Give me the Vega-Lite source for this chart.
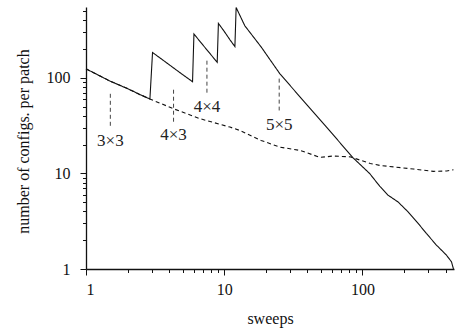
{
  "$schema": "https://vega.github.io/schema/vega-lite/v6.json",
  "width": 368,
  "height": 262,
  "autosize": {"type": "none"},
  "padding": {"left": 86, "top": 7, "right": 4, "bottom": 63},
  "background": "white",
  "config": {
    "view": {"stroke": null},
    "font": "Liberation Serif",
    "text": {"font": "Liberation Serif"},
    "axis": {
      "grid": false,
      "domainColor": "#111",
      "domainWidth": 1.3,
      "tickColor": "#111",
      "tickWidth": 1,
      "labelFont": "Liberation Serif",
      "labelFontSize": 16,
      "labelColor": "#111",
      "titleFont": "Liberation Serif",
      "titleFontSize": 16,
      "titleFontWeight": "normal",
      "titleColor": "#111"
    }
  },
  "datasets": {
    "lines": [
      {"series": "solid", "x": 1, "y": 124},
      {"series": "solid", "x": 1.5, "y": 92},
      {"series": "solid", "x": 2, "y": 77},
      {"series": "solid", "x": 2.5, "y": 66},
      {"series": "solid", "x": 2.9, "y": 60},
      {"series": "solid", "x": 3.03, "y": 184},
      {"series": "solid", "x": 4, "y": 137},
      {"series": "solid", "x": 5, "y": 108},
      {"series": "solid", "x": 5.9, "y": 91},
      {"series": "solid", "x": 6.04, "y": 287},
      {"series": "solid", "x": 7, "y": 221},
      {"series": "solid", "x": 8, "y": 175},
      {"series": "solid", "x": 8.9, "y": 145},
      {"series": "solid", "x": 9.08, "y": 371},
      {"series": "solid", "x": 10, "y": 306},
      {"series": "solid", "x": 11, "y": 250},
      {"series": "solid", "x": 11.95, "y": 212},
      {"series": "solid", "x": 12.2, "y": 543},
      {"series": "solid", "x": 14.1, "y": 350},
      {"series": "solid", "x": 18.6, "y": 208},
      {"series": "solid", "x": 25.3, "y": 110},
      {"series": "solid", "x": 37.3, "y": 57.8},
      {"series": "solid", "x": 55, "y": 30.5},
      {"series": "solid", "x": 85, "y": 14.7},
      {"series": "solid", "x": 113, "y": 9.95},
      {"series": "solid", "x": 133.6, "y": 7.33},
      {"series": "solid", "x": 153.5, "y": 5.91},
      {"series": "solid", "x": 181, "y": 5.03},
      {"series": "solid", "x": 214, "y": 3.96},
      {"series": "solid", "x": 253, "y": 3.0},
      {"series": "solid", "x": 290, "y": 2.36},
      {"series": "solid", "x": 343, "y": 1.78},
      {"series": "solid", "x": 405, "y": 1.4},
      {"series": "solid", "x": 441, "y": 1.19},
      {"series": "solid", "x": 456, "y": 1},
      {"series": "dashed", "x": 1, "y": 124},
      {"series": "dashed", "x": 1.5, "y": 92},
      {"series": "dashed", "x": 2, "y": 77},
      {"series": "dashed", "x": 2.5, "y": 66},
      {"series": "dashed", "x": 2.9, "y": 60},
      {"series": "dashed", "x": 4.3, "y": 47.4},
      {"series": "dashed", "x": 6.7, "y": 37.3},
      {"series": "dashed", "x": 11, "y": 30.5},
      {"series": "dashed", "x": 13, "y": 28.1},
      {"series": "dashed", "x": 18.5, "y": 22.1},
      {"series": "dashed", "x": 25.4, "y": 18.8},
      {"series": "dashed", "x": 35.4, "y": 17.4},
      {"series": "dashed", "x": 49.4, "y": 14.7},
      {"series": "dashed", "x": 61.7, "y": 15.2},
      {"series": "dashed", "x": 81.5, "y": 14.9},
      {"series": "dashed", "x": 114, "y": 12.7},
      {"series": "dashed", "x": 134, "y": 12.1},
      {"series": "dashed", "x": 168, "y": 11.7},
      {"series": "dashed", "x": 234, "y": 11.1},
      {"series": "dashed", "x": 327, "y": 10.5},
      {"series": "dashed", "x": 408, "y": 10.6},
      {"series": "dashed", "x": 456, "y": 10.9}
    ],
    "notes": [
      {"label": "3×3", "x": 1.5, "y1": 68, "y2": 31, "ly": 22},
      {"label": "4×3", "x": 4.3, "y1": 75, "y2": 34, "ly": 25},
      {"label": "4×4", "x": 7.5, "y1": 151, "y2": 68, "ly": 49},
      {"label": "5×5", "x": 25, "y1": 98, "y2": 45.5, "ly": 31.7}
    ]
  },
  "layer": [
    {
      "data": {"name": "lines"},
      "mark": {"type": "line", "color": "#111", "strokeWidth": 1.1},
      "encoding": {
        "x": {
          "field": "x", "type": "quantitative",
          "scale": {"type": "log", "domain": [1, 460], "nice": false},
          "axis": {
            "title": "sweeps",
            "values": [1, 2, 3, 4, 5, 6, 7, 8, 9, 10, 20, 30, 40, 50, 60, 70, 80, 90, 100, 200, 300, 400],
            "labelExpr": "datum.value == 1 || datum.value == 10 || datum.value == 100 ? format(datum.value, 'd') : ''",
            "tickSize": {"condition": {"test": "datum.value == 1 || datum.value == 10 || datum.value == 100", "value": 6}, "value": 3.5},
            "labelPadding": 6,
            "titleBaseline": "alphabetic",
            "titleY": 54
          }
        },
        "y": {
          "field": "y", "type": "quantitative",
          "scale": {"type": "log", "domain": [1, 550], "nice": false},
          "axis": {
            "title": "number of configs. per patch",
            "values": [1, 2, 3, 4, 5, 6, 7, 8, 9, 10, 20, 30, 40, 50, 60, 70, 80, 90, 100, 200, 300, 400, 500],
            "labelExpr": "datum.value == 1 || datum.value == 10 || datum.value == 100 ? format(datum.value, 'd') : ''",
            "tickSize": {"condition": {"test": "datum.value == 1 || datum.value == 10 || datum.value == 100", "value": 6}, "value": 3.5},
            "labelPadding": 10,
            "titleBaseline": "alphabetic",
            "titleX": -58,
            "titleY": 134
          }
        },
        "detail": {"field": "series"},
        "strokeDash": {
          "field": "series", "type": "nominal",
          "scale": {"domain": ["solid", "dashed"], "range": [[1, 0], [4, 3]]},
          "legend": null
        }
      }
    },
    {
      "data": {"name": "notes"},
      "mark": {"type": "rule", "color": "#444", "strokeWidth": 1, "strokeDash": [4, 3]},
      "encoding": {
        "x": {"field": "x", "type": "quantitative", "scale": {"type": "log", "domain": [1, 460], "nice": false}},
        "y": {"field": "y1", "type": "quantitative", "scale": {"type": "log", "domain": [1, 550], "nice": false}},
        "y2": {"field": "y2"}
      }
    },
    {
      "data": {"name": "notes"},
      "mark": {"type": "text", "color": "#222", "fontSize": 17, "font": "Liberation Serif", "align": "center", "baseline": "middle"},
      "encoding": {
        "x": {"field": "x", "type": "quantitative", "scale": {"type": "log", "domain": [1, 460], "nice": false}},
        "y": {"field": "ly", "type": "quantitative", "scale": {"type": "log", "domain": [1, 550], "nice": false}},
        "text": {"field": "label"}
      }
    }
  ]
}
